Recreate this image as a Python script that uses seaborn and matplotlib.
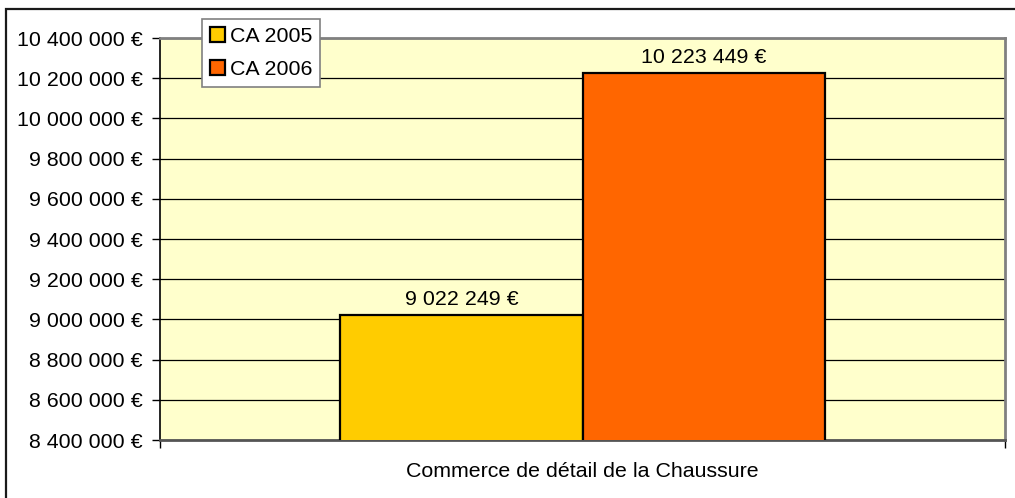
import matplotlib
matplotlib.use("Agg")
import matplotlib.pyplot as plt
import matplotlib.patches as mpatches
import seaborn as sns
import pandas as pd

categories = ["Commerce de détail de la Chaussure"]
series = ["CA 2005", "CA 2006"]
values = [9022249, 10223449]
colors = ["#FFCC00", "#FF6600"]
y_ticks = list(range(8400000, 10400001, 200000))


def euro(v):
    return f"{v:,.0f}".replace(",", " ") + " €"


df = pd.DataFrame({
    "categorie": categories * len(series),
    "serie": series,
    "ca": values,
})

sns.set_theme(style="white")
plt.rcParams["font.family"] = ["Liberation Sans", "DejaVu Sans"]
plt.rcParams["text.color"] = "black"

FS = 15.4
W, H = 1015, 498
fig = plt.figure(figsize=(W / 100, H / 100), dpi=100)
fig.patch.set_facecolor("white")

# outer chart frame
fig.add_artist(mpatches.Rectangle((6 / W, -0.2), 1.2, 1.2 - 9 / H,
                                  transform=fig.transFigure, fill=False,
                                  edgecolor="#1a1a1a", linewidth=1.6))

ax = fig.add_axes([160 / W, 1 - 440 / H, 845 / W, 402 / H])
ax.set_facecolor("#FFFFCC")

sns.barplot(data=df, x="categorie", y="ca", hue="serie", palette=colors,
            width=0.573, edgecolor="black", linewidth=1.6, saturation=1,
            ax=ax, legend=False, zorder=3)

ax.set_ylim(y_ticks[0], y_ticks[-1])
ax.set_xlim(-0.5, 0.5)
ax.set_yticks(y_ticks)
ax.set_yticklabels([euro(v) for v in y_ticks], fontsize=FS, color="black")
ax.yaxis.grid(True, color="black", linewidth=0.9, zorder=0)
ax.set_axisbelow(True)
ax.set_xlabel("")
ax.set_ylabel("")

ax.tick_params(axis="y", direction="out", length=6, width=1, color="black",
               pad=6.5, left=True)
ax.tick_params(axis="x", which="major", length=0, pad=16, labelsize=FS,
               labelcolor="black")
ax.set_xticks([-0.5, 0.5], minor=True)
ax.tick_params(axis="x", which="minor", direction="out", length=6, width=1,
               color="black", bottom=True)

for side in ["top", "right"]:
    ax.spines[side].set_visible(True)
    ax.spines[side].set_color("#808080")
    ax.spines[side].set_linewidth(2)
ax.spines["left"].set_color("black")
ax.spines["left"].set_linewidth(1.2)
ax.spines["bottom"].set_color("#555555")
ax.spines["bottom"].set_linewidth(2)

# value labels above each bar
for bar, v in zip(ax.patches, values):
    ax.annotate(euro(v), (bar.get_x() + bar.get_width() / 2, v),
                xytext=(0, 7.5), textcoords="offset points",
                ha="center", va="baseline", fontsize=FS, color="black",
                zorder=5)

handles = [mpatches.Patch(facecolor=c, edgecolor="black", linewidth=1.6)
           for c in colors]
leg = fig.legend(handles, series, loc="upper left",
                 bbox_to_anchor=(202 / W, 1 - 19 / H), fontsize=FS,
                 labelcolor="black",
                 frameon=True, fancybox=False, framealpha=1,
                 edgecolor="#808080", handlelength=0.72, handleheight=0.72,
                 handletextpad=0.22, labelspacing=0.66, borderpad=0.36,
                 borderaxespad=0)
leg.get_frame().set_linewidth(1.2)

fig.savefig("out.png", dpi=100)
